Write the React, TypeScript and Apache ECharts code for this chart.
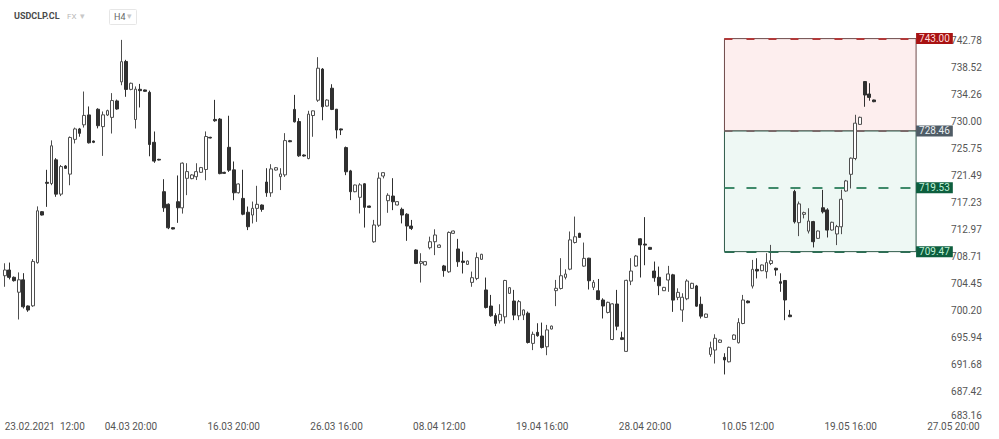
import React, { useEffect, useRef } from "react";
import * as echarts from "echarts";

// OHLC candles: [open, close, low, high]
const candles: number[][] = [
  [705.68, 706.58, 703.94, 707.64], [706.58, 705.42, 705.1, 707.75], [705.43, 704.9, 704.76, 705.56],
  [703.08, 705.04, 698.79, 706.2], [705.03, 700.79, 700.52, 706.08], [700.92, 700.28, 700.0, 701.0],
  [700.94, 707.93, 700.78, 708.3], [707.74, 715.9, 707.58, 716.59], [715.76, 715.23, 715.16, 715.86],
  [720.38, 720.22, 716.52, 722.35], [720.19, 726.13, 719.93, 726.98], [723.92, 718.52, 718.1, 724.19],
  [718.52, 722.86, 718.21, 723.11], [722.95, 722.58, 722.49, 723.09], [721.67, 727.44, 719.92, 727.6],
  [727.14, 728.78, 726.5, 728.99], [728.78, 728.09, 727.56, 728.94], [729.43, 730.91, 729.0, 734.67],
  [730.99, 726.6, 726.49, 732.32], [726.88, 726.67, 726.55, 726.95], [731.88, 729.29, 728.87, 732.04],
  [729.15, 731.0, 724.54, 731.53], [730.97, 731.66, 730.81, 731.81], [730.6, 733.25, 728.06, 734.42],
  [733.19, 731.92, 731.8, 733.4], [736.19, 739.37, 735.66, 742.8], [739.4, 735.0, 733.84, 739.66],
  [735.01, 735.97, 734.87, 736.07], [730.27, 735.04, 728.85, 735.47], [735.02, 734.81, 732.16, 735.87],
  [734.92, 734.7, 734.63, 734.98], [734.54, 726.33, 724.48, 734.81], [726.68, 723.72, 723.45, 728.38],
  [724.0, 723.89, 723.83, 724.08], [718.91, 716.37, 715.73, 720.87], [716.93, 713.22, 713.01, 717.06],
  [713.24, 713.03, 712.98, 713.33], [717.33, 716.38, 714.0, 721.46], [716.36, 723.4, 715.46, 723.51],
  [721.01, 722.07, 718.36, 723.39], [720.96, 721.54, 720.86, 721.66], [721.26, 722.06, 720.74, 723.38],
  [721.96, 722.7, 721.85, 722.8], [722.4, 727.59, 720.71, 728.39], [727.46, 727.36, 727.3, 727.55],
  [730.28, 730.07, 729.91, 733.36], [730.33, 721.75, 721.65, 730.49], [721.95, 721.79, 721.7, 722.05],
  [725.89, 722.29, 722.02, 730.86], [722.34, 718.73, 717.57, 723.66], [718.74, 720.12, 718.62, 720.22],
  [717.85, 715.36, 715.2, 722.36], [715.67, 713.39, 712.86, 716.57], [715.23, 716.29, 713.91, 717.35],
  [716.28, 716.92, 714.16, 719.83], [716.81, 716.12, 715.75, 716.9], [720.43, 718.73, 718.1, 722.6],
  [718.73, 722.49, 718.1, 723.23], [722.31, 722.68, 722.24, 722.79], [721.27, 721.7, 719.16, 722.6],
  [721.55, 726.95, 721.23, 728.12], [726.93, 726.77, 726.7, 727.05], [731.86, 729.9, 729.8, 734.14],
  [729.95, 724.55, 724.39, 730.48], [724.68, 724.52, 724.42, 724.77], [724.12, 731.11, 724.01, 731.64],
  [730.89, 731.63, 727.55, 731.68], [733.3, 738.34, 733.04, 740.08], [738.2, 732.27, 730.15, 738.36],
  [732.38, 733.33, 732.29, 733.44], [735.19, 731.85, 731.75, 735.82], [731.89, 728.61, 727.28, 731.93],
  [728.78, 728.62, 727.82, 728.84], [725.85, 722.04, 721.51, 726.01], [722.18, 718.9, 717.58, 722.34],
  [718.9, 719.96, 718.82, 720.02], [718.02, 719.98, 715.48, 720.24], [720.15, 716.44, 713.26, 720.25],
  [716.65, 716.44, 716.35, 716.7], [711.02, 713.67, 710.87, 714.47], [713.62, 721.04, 713.36, 721.94],
  [721.37, 721.9, 721.0, 721.95], [717.49, 718.34, 715.58, 718.66], [718.22, 717.32, 716.0, 721.03],
  [716.81, 717.34, 716.75, 717.4], [716.13, 715.23, 713.91, 716.4], [715.36, 713.5, 711.17, 715.52],
  [713.5, 713.13, 712.87, 714.46], [709.73, 707.61, 707.51, 709.84], [707.63, 707.9, 704.61, 709.22],
  [707.37, 707.9, 707.29, 707.99], [710.08, 711.03, 709.82, 711.83], [711.03, 712.09, 708.92, 712.99],
  [710.14, 710.51, 710.06, 710.61], [707.22, 706.48, 705.52, 707.38], [706.29, 712.49, 706.13, 712.65],
  [712.35, 712.72, 712.24, 712.79], [709.89, 707.88, 707.08, 711.48], [707.99, 707.78, 706.03, 709.47],
  [707.46, 707.99, 707.38, 708.08], [704.63, 705.37, 703.94, 706.33], [705.25, 708.53, 704.98, 709.33],
  [708.26, 709.05, 708.18, 709.13], [703.44, 700.68, 700.52, 705.39], [700.91, 699.38, 699.22, 702.66],
  [699.4, 698.18, 697.75, 699.77], [698.59, 699.6, 698.17, 701.19], [699.21, 704.93, 698.15, 705.03],
  [702.9, 703.8, 702.83, 703.88], [701.7, 699.48, 698.69, 703.45], [699.37, 701.6, 698.69, 701.86],
  [699.49, 700.29, 698.7, 700.36], [699.78, 695.17, 695.01, 700.04], [695.03, 696.46, 693.97, 696.88],
  [696.77, 696.24, 696.08, 698.2], [696.19, 694.38, 694.23, 698.3], [694.5, 697.15, 693.17, 697.94],
  [697.29, 697.76, 697.23, 697.83], [703.33, 703.7, 700.89, 705.02], [703.67, 705.68, 703.51, 708.44],
  [705.42, 705.95, 705.1, 706.69], [706.71, 711.32, 706.55, 712.64], [710.91, 711.81, 710.75, 714.99],
  [712.35, 711.71, 711.64, 712.44], [707.19, 708.41, 707.08, 710.9], [708.44, 704.89, 703.51, 708.5],
  [703.85, 704.64, 703.42, 705.01], [703.31, 701.94, 701.83, 705.17], [701.86, 700.91, 698.95, 702.13],
  [699.9, 701.49, 699.75, 701.6], [695.64, 701.25, 695.53, 701.36], [701.23, 697.73, 697.1, 703.45],
  [695.92, 695.66, 695.55, 696.87], [693.77, 704.95, 693.67, 705.05], [704.83, 706.42, 704.2, 708.44],
  [707.2, 708.78, 707.09, 708.95], [711.49, 710.53, 705.4, 711.59], [710.66, 710.5, 707.33, 714.9],
  [710.14, 709.83, 709.76, 710.21], [706.42, 705.36, 704.73, 707.91], [705.43, 704.1, 702.62, 707.12],
  [703.32, 703.85, 703.27, 703.92], [705.0, 705.96, 703.15, 707.23], [705.82, 701.84, 699.99, 705.98],
  [702.27, 703.06, 701.84, 703.7], [700.28, 702.29, 698.42, 702.92], [702.05, 704.85, 701.83, 705.12],
  [703.69, 704.48, 703.62, 704.57], [704.07, 700.89, 700.79, 704.23], [701.18, 699.32, 698.95, 702.39],
  [699.12, 699.65, 699.06, 699.71], [693.29, 694.35, 692.92, 695.3], [693.98, 695.83, 691.86, 696.47],
  [695.19, 695.56, 695.1, 695.65], [692.84, 692.42, 690.14, 693.48], [692.13, 694.41, 692.03, 694.52],
  [695.66, 696.35, 695.6, 696.45], [695.13, 698.3, 695.02, 698.99], [698.16, 701.86, 698.05, 702.66],
  [701.69, 701.43, 701.34, 701.79], [704.04, 706.69, 703.67, 708.17], [706.68, 706.42, 705.25, 708.43],
  [706.47, 707.37, 706.39, 707.44], [706.31, 707.74, 705.25, 709.22], [707.61, 708.04, 707.35, 710.53],
  [706.85, 706.58, 705.68, 706.95], [704.74, 704.48, 703.15, 706.06], [704.93, 701.86, 698.68, 704.99],
  [699.49, 699.23, 699.16, 700.29], [718.93, 714.16, 713.9, 719.2], [714.03, 716.99, 711.91, 717.36],
  [715.34, 715.61, 714.7, 715.76], [712.7, 714.29, 712.33, 716.3], [714.2, 711.03, 710.13, 714.31],
  [711.56, 712.72, 711.49, 712.79], [716.38, 715.74, 715.48, 719.19], [716.04, 712.86, 711.7, 716.3],
  [712.87, 714.09, 712.78, 714.18], [712.25, 713.41, 710.5, 713.68], [713.38, 717.72, 712.22, 719.21],
  [719.01, 720.6, 718.9, 720.76], [721.64, 724.18, 719.41, 724.28], [724.13, 729.69, 723.86, 731.01],
  [729.5, 730.61, 729.42, 730.72], [736.24, 734.12, 732.27, 736.28], [734.28, 733.75, 733.22, 735.98],
  [733.34, 733.07, 732.99, 733.39],
];

const slotCount = 210;
const xTickLabels = [
  "23.02.2021  12:00", "04.03 20:00", "16.03 20:00", "26.03 16:00", "08.04 12:00",
  "19.04 16:00", "28.04 20:00", "10.05 12:00", "19.05 16:00", "27.05 20:00",
];
const xTickIndex = [0, 27, 49, 71, 93, 115, 137, 159, 181, 203];

const yTickLabels = [
  "683.16", "687.42", "691.68", "695.94", "700.20", "704.45", "708.71", "712.97",
  "717.23", "721.49", "725.75", "730.00", "734.26", "738.52", "742.78",
];
const yMin = 683.16;
const yTop = 742.78;
const yMax = 744.6;

// Drawn box (position tool) levels
const boxStartIndex = 154;
const boxEndIndex = 195;
const levelValues = [743.0, 728.46, 719.53, 709.47];
const levelLabels = ["743.00", "728.46", "719.53", "709.47"];

export default function App() {
  const ref = useRef<HTMLDivElement>(null);

  useEffect(() => {
    if (!ref.current) return;
    const chart = echarts.init(ref.current, null, { renderer: "svg" });
    const yStep = (yTop - yMin) / (yTickLabels.length - 1);

    const categories = Array.from({ length: slotCount }, (_, i) => {
      const k = xTickIndex.indexOf(i);
      if (k === 0) return { value: xTickLabels[k], textStyle: { align: "left" } };
      return k >= 0 ? xTickLabels[k] : "s" + i;
    });

    const lineStyles = [
      { color: "#b23a3a", width: 2, type: [8, 14] },
      { color: "#7a6a6a", width: 2, type: [8, 14] },
      { color: "#3f8a6a", width: 2, type: [10, 12] },
      { color: "#2f6e55", width: 2, type: [10, 12] },
    ];
    const tagBg = ["#a81212", "#4f5c66", "#0d5e3e", "#0d5e3e"];
    const tagColor = ["#ffd9d9", "#e8eef2", "#bff0d6", "#bff0d6"];

    chart.setOption({
      animation: false,
      backgroundColor: "#ffffff",
      textStyle: { fontFamily: "Roboto" },
      grid: { left: 2.36, right: 15.14, top: 28.44, bottom: 20.2 },
      xAxis: {
        type: "category",
        data: categories,
        boundaryGap: true,
        axisLine: { show: false },
        axisTick: { show: false },
        splitLine: { show: false },
        axisLabel: {
          interval: (index: number) => xTickIndex.indexOf(index) >= 0,
          color: "#555",
          fontSize: 10,
          margin: 3,
          fontFamily: "Roboto",
          hideOverlap: false,
        },
      },
      yAxis: {
        type: "value",
        position: "right",
        min: yMin,
        max: yMax,
        interval: yStep,
        scale: true,
        axisLine: { show: false },
        axisTick: { show: false },
        splitLine: { show: false },
        axisLabel: {
          inside: true,
          margin: 2,
          color: "#555",
          fontSize: 10,
          fontFamily: "Roboto",
          formatter: (v: number) => {
            const i = Math.round((v - yMin) / yStep);
            if (i >= 0 && i < yTickLabels.length && Math.abs(v - (yMin + i * yStep)) < 0.01) {
              return i === 0 ? "{low|" + yTickLabels[i] + "}" : yTickLabels[i];
            }
            return "";
          },
          rich: {
            low: { fontSize: 10, color: "#555", fontFamily: "Roboto", padding: [0, 0, 6, 0] },
          },
        },
      },
      graphic: [
        { type: "text", left: 14, top: 11, style: { text: "USDCLP.CL", fontSize: 9, fontWeight: "bold", fill: "#4a4a4a", fontFamily: "Roboto" } },
        { type: "text", left: 67, top: 12, style: { text: "FX", fontSize: 8, fill: "#b8b8b8", fontFamily: "Roboto" } },
        { type: "text", left: 80, top: 11, style: { text: "▾", fontSize: 9, fill: "#c8c8c8", fontFamily: "DejaVu Sans" } },
        { type: "rect", left: 109, top: 9, shape: { width: 27, height: 15, r: 1 }, style: { fill: "#fff", stroke: "#e6e6e6", lineWidth: 1 } },
        { type: "text", left: 114, top: 12, style: { text: "H4", fontSize: 9, fill: "#666", fontFamily: "Roboto" } },
        { type: "text", left: 127, top: 11, style: { text: "▾", fontSize: 9, fill: "#c8c8c8", fontFamily: "DejaVu Sans" } },
      ],
      series: [
        {
          type: "candlestick",
          data: candles,
          barWidth: 3.3,
          itemStyle: {
            color: "#ffffff",
            color0: "#303030",
            borderColor: "#4f4f4f",
            borderColor0: "#303030",
            borderWidth: 1,
          },
          markArea: {
            silent: true,
            data: [
              [
                { xAxis: boxStartIndex, yAxis: levelValues[0], itemStyle: { color: "#fdeeee", borderColor: "#6e4a4a", borderWidth: 1 } },
                { xAxis: boxEndIndex, yAxis: levelValues[1] },
              ],
              [
                { xAxis: boxStartIndex, yAxis: levelValues[1], itemStyle: { color: "#eef8f4", borderColor: "#2f5a4a", borderWidth: 1 } },
                { xAxis: boxEndIndex, yAxis: levelValues[3] },
              ],
            ],
          },
          markLine: {
            silent: true,
            symbol: "none",
            data: levelValues.map((v, i) => [
              {
                coord: [boxStartIndex, v],
                lineStyle: lineStyles[i],
                label: {
                  show: true,
                  position: "end",
                  distance: 0,
                  formatter: levelLabels[i],
                  backgroundColor: tagBg[i],
                  color: tagColor[i],
                  fontSize: 10,
                  fontFamily: "Roboto",
                  padding: [1, 3, 0, 3],
                },
              },
              { coord: [boxEndIndex, v] },
            ]),
          },
        },
      ],
    });
    return () => chart.dispose();
  }, []);

  return (
    <div
      ref={ref}
      style={{ position: "absolute", left: 0, top: 0, width: 999, height: 439, background: "#fff" }}
    />
  );
}
